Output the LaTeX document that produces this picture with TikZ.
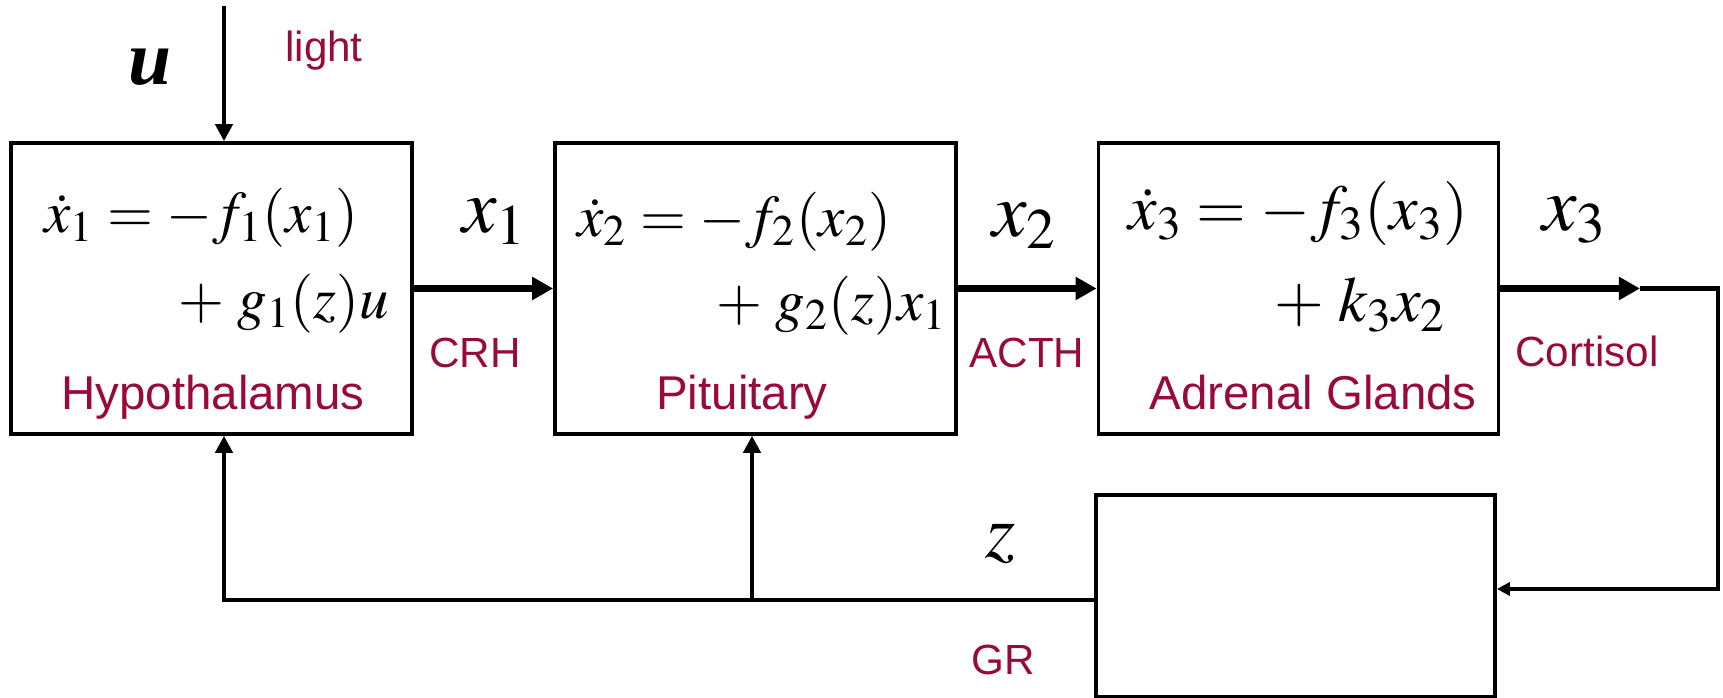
\documentclass[tikz,border=0pt]{standalone}
\usepackage{amsmath,amssymb}
\usepackage{mathptmx}
\usepackage[no-math]{fontspec}
\newfontfamily\lblfont{Liberation Sans}
\newfontfamily\serifvar{Liberation Serif}
\usetikzlibrary{arrows.meta}
\definecolor{hormone}{RGB}{153,10,60}

\begin{document}
\begin{tikzpicture}[x=0.01cm, y=-0.01cm,
    block/.style={draw, line width=1pt, minimum height=2.91cm, inner sep=0pt},
    organ/.style={anchor=base, text=hormone, inner sep=0pt, font=\lblfont\fontsize{13.5}{16}\selectfont},
    signal/.style={anchor=base, text=hormone, inner sep=0pt, font=\lblfont\fontsize{12}{14}\selectfont},
    eqn/.style={inner sep=0pt, font=\fontsize{16.8}{20}\selectfont},
    bigeqn/.style={inner sep=0pt, font=\fontsize{18.2}{22}\selectfont},
    var/.style={anchor=base, inner sep=0pt, font=\fontsize{22}{26}\selectfont},
    flow/.style={line width=2pt, -{Triangle[length=0.21cm, width=0.22cm]}},
    fb/.style={line width=1.3pt, -{Triangle[length=0.17cm, width=0.17cm]}}]
    \useasboundingbox (0,0) rectangle (1723,698);

    % Blocks
    \node[block, minimum width=4.01cm] (hyp) at (211.5,288.5) {};
    \node[block, minimum width=4.01cm] (pit) at (755.5,288.5) {};
    \node[block, minimum width=4.00cm] (adr) at (1298.5,288.5) {};
    \node[block, minimum width=3.99cm, minimum height=2.02cm] (grbox) at (1295.5,596) {};

    % Equations
    \node[eqn, anchor=base west] (eqhypa) at (44,233) {$\dot{x}_1 = -f_1(x_1)$};
    \node[eqn, anchor=base east] (eqhypb) at (390,319) {$+\;g_1(z)u$};
    \node[eqn, anchor=base west] (eqpita) at (577,237) {$\dot{x}_2 = -f_2(x_2)$};
    \node[eqn, anchor=base east] (eqpitb) at (948,321) {$+\;g_2(z)x_1$};
    \node[bigeqn, anchor=base west] (eqadra) at (1128,230) {$\dot{x}_3 = -f_3(x_3)$};
    \node[bigeqn, anchor=base east] (eqadrb) at (1447,322) {$+\;k_3x_2$};

    % Organ names
    \node[organ] (hypname) at (213,410) {Hypothalamus};
    \node[organ] (pitname) at (742,410) {Pituitary};
    \node[organ] (adrname) at (1313,410) {Adrenal Glands};

    % Signals
    \node[var] (ulab) at (150,85) {\serifvar\bfseries\itshape u};
    \node[signal] (light) at (324,62) {light};
    \node[var] (xonelab) at (495,233) {$x_1$};
    \node[signal] (crh) at (475,368) {CRH};
    \node[var] (xtwolab) at (1025,237) {$x_2$};
    \node[signal] (acth) at (1027,368) {ACTH};
    \node[var] (xthreelab) at (1575,231) {$x_3$};
    \node[signal] (cortisol) at (1587,367) {Cortisol};
    \node[var] (zlab) at (1001,558) {$z$};
    \node[signal] (gr) at (1003,675) {GR};

    % Forward path
    \coordinate (uin) at (224,6);
    \draw[line width=1.4pt, -{Triangle[length=0.17cm, width=0.17cm]}] (uin) -- (uin |- hyp.north);
    \draw[flow] (hyp) -- (pit);
    \draw[flow] (pit) -- (adr);
    \coordinate (cortip) at (1640,288.5);
    \draw[flow] (adr) -- (cortip);

    % Feedback
    \coordinate (ret) at (1718,589);
    \draw[line width=1.2pt, -{Triangle[length=0.13cm, width=0.13cm]}] (cortip) -| (ret) -- (grbox.east |- ret);
    \coordinate (fbl) at (224,600);
    \coordinate (fbm) at (752,600);
    \draw[fb] (grbox.west |- fbl) -- (fbl) -- (fbl |- hyp.south);
    \draw[fb] (fbm) -- (fbm |- pit.south);
\end{tikzpicture}
\end{document}
